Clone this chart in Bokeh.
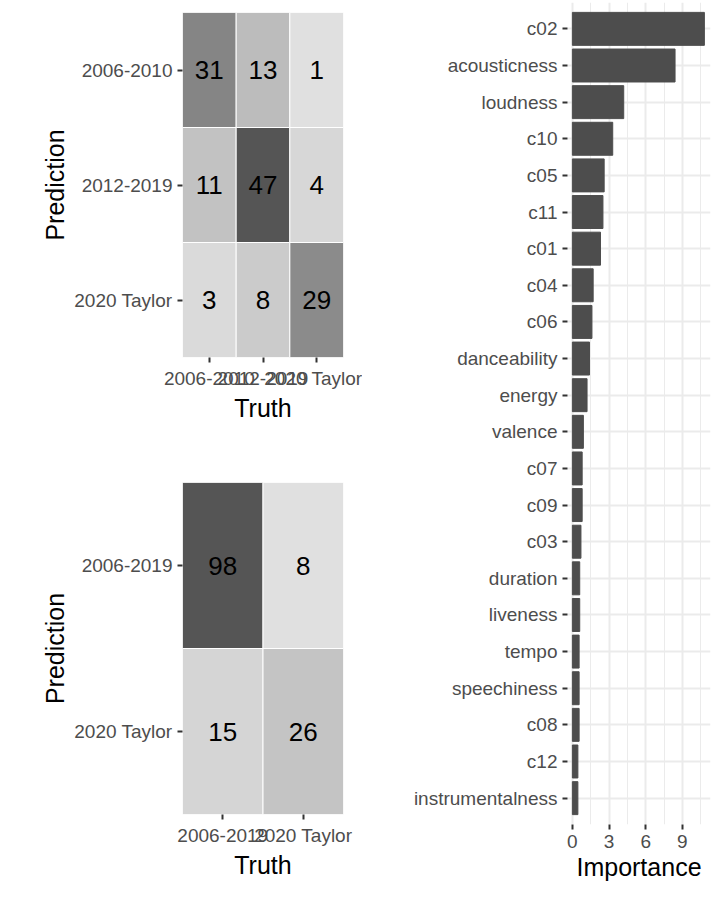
from bokeh.plotting import figure
from bokeh.layouts import row, column
from bokeh.models import ColumnDataSource, LinearColorMapper, FixedTicker, Range1d
from bokeh.embed import file_html
from bokeh.resources import INLINE

# confusion matrix, 3 classes
classes3 = ["2006-2010", "2012-2019", "2020 Taylor"]
truth3 = ["2006-2010", "2012-2019", "2020 Taylor"] * 3
pred3 = ["2006-2010"] * 3 + ["2012-2019"] * 3 + ["2020 Taylor"] * 3
count3 = [31, 13, 1, 11, 47, 4, 3, 8, 29]

# confusion matrix, 2 classes
classes2 = ["2006-2019", "2020 Taylor"]
truth2 = ["2006-2019", "2020 Taylor"] * 2
pred2 = ["2006-2019"] * 2 + ["2020 Taylor"] * 2
count2 = [98, 8, 15, 26]

# variable importance
features = ["c02", "acousticness", "loudness", "c10", "c05", "c11", "c01", "c04", "c06",
            "danceability", "energy", "valence", "c07", "c09", "c03", "duration",
            "liveness", "tempo", "speechiness", "c08", "c12", "instrumentalness"]
importance = [10.8, 8.4, 4.2, 3.3, 2.6, 2.5, 2.3, 1.7, 1.6, 1.4, 1.2, 0.9, 0.8, 0.8,
              0.7, 0.6, 0.6, 0.55, 0.55, 0.55, 0.45, 0.45]

FONT = "Liberation Sans"
greys = ["#%02x%02x%02x" % (v, v, v) for v in [int(224 - (224 - 85) * i / 255) for i in range(256)]]


def style(p):
    p.toolbar_location = None
    p.outline_line_color = None
    for ax in [p.xaxis, p.yaxis]:
        ax.axis_line_color = None
        ax.major_tick_line_color = "#333333"
        ax.major_tick_line_width = 2
        ax.major_tick_out = 5
        ax.major_tick_in = 0
        ax.minor_tick_line_color = None
        ax.major_label_text_font = FONT
        ax.major_label_text_font_size = "19px"
        ax.major_label_text_color = "#4d4d4d"
        ax.axis_label_text_font = FONT
        ax.axis_label_text_font_size = "25px"
        ax.axis_label_text_font_style = "normal"
        ax.axis_label_text_color = "black"
        ax.axis_label_standoff = 2


def conf(classes, truth, pred, count, h, top, bottom):
    p = figure(width=362, height=h, x_range=classes, y_range=list(reversed(classes)),
               output_backend="svg", toolbar_location=None,
               min_border_left=182, min_border_right=19, min_border_top=top, min_border_bottom=bottom)
    mapper = LinearColorMapper(palette=greys, low=min(count), high=max(count))
    src = ColumnDataSource(dict(t=truth, p=pred, n=count, s=[str(c) for c in count]))
    p.rect("t", "p", 1, 1, source=src, fill_color={"field": "n", "transform": mapper},
           line_color="white", line_width=1)
    p.text("t", "p", text="s", source=src, text_align="center", text_baseline="middle",
           text_font_size="26px", text_color="black", text_font={"value": FONT})
    p.grid.grid_line_color = None
    p.x_range.range_padding = 0
    p.y_range.range_padding = 0
    style(p)
    p.xaxis.axis_label = "Truth"
    p.yaxis.axis_label = "Prediction"
    return p


p1 = conf(classes3, truth3, pred3, count3, 447, 12, 90)
p2 = conf(classes2, truth2, pred2, count2, 458, 35, 91)

p3 = figure(width=350, height=905, y_range=list(reversed(features)), x_range=Range1d(-0.4, 11.3),
            output_backend="svg", toolbar_location=None,
            min_border_left=205, min_border_right=2, min_border_top=2, min_border_bottom=81)
p3.hbar(y=features, right=importance, left=0, height=0.9, fill_color="#4d4d4d",
        line_color="#4d4d4d")
p3.xaxis.ticker = FixedTicker(ticks=[0, 3, 6, 9], minor_ticks=[1.5, 4.5, 7.5, 10.5])
p3.y_range.range_padding = 0.02
style(p3)
p3.xgrid.grid_line_color = "#ebebeb"
p3.xgrid.grid_line_width = 2
p3.xgrid.minor_grid_line_color = "#ebebeb"
p3.xgrid.minor_grid_line_width = 1
p3.ygrid.grid_line_color = "#ebebeb"
p3.ygrid.grid_line_width = 2
p3.xaxis.axis_label = "Importance"

layout = row(column(p1, p2), p3)
open("out.html", "w").write(file_html(layout, INLINE))
